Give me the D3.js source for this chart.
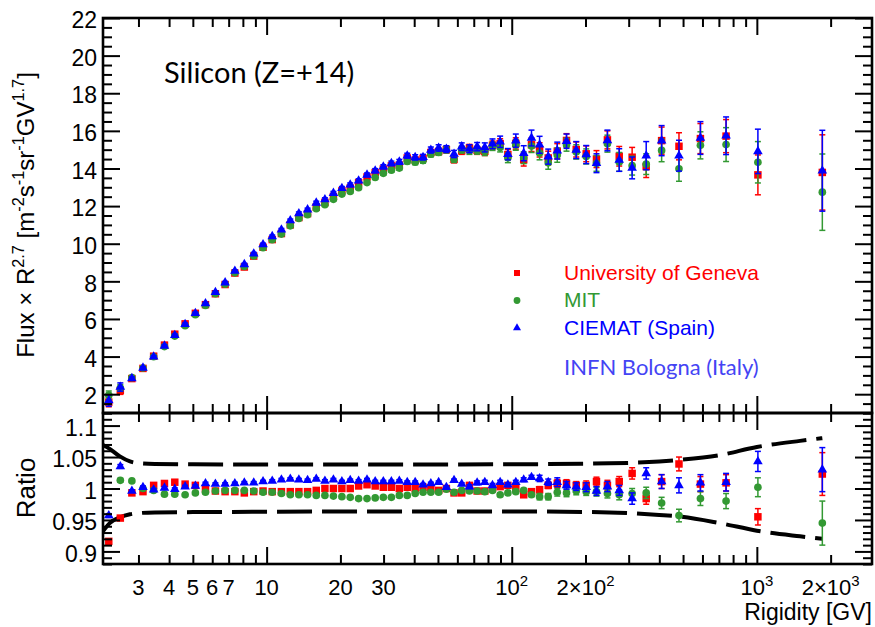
<!DOCTYPE html>
<html>
<head>
<meta charset="utf-8">
<script src="https://cdn.jsdelivr.net/npm/d3@7"></script>
<style>
  html, body { margin: 0; padding: 0; background: #ffffff; }
  svg { display: block; }
  text { font-family: "Liberation Sans", Arial, Helvetica, sans-serif; fill: #000; }
  .calibri { font-family: Lato, "Open Sans", sans-serif; }
</style>
</head>
<body>
<svg id="chart" width="875" height="627"></svg>
<script>
// Rigidity bin centres [GV]
const rigidity = [2.27,2.53,2.82,3.13,3.46,3.83,4.22,4.65,5.12,5.63,
  6.18,6.77,7.42,8.11,8.86,9.67,10.54,11.49,12.49,13.54,
  14.69,15.94,17.29,18.73,20.28,21.93,23.73,25.68,27.73,29.93,
  32.28,34.78,37.47,40.37,43.47,46.77,50.32,54.12,58.16,62.51,
  67.21,72.25,77.65,83.45,89.69,96.44,103.9,111.9,120.4,129.9,
  140.9,153.4,167.3,183.3,201.3,221.7,245.7,274.5,309.9,353.7,
  408.8,481.2,588.6,749,1010,1850];

// Flux x R^2.7 from each analysis group
const fluxGeneva = [1.58,2.19,2.83,3.37,4.02,4.61,5.19,5.74,6.30,6.76,
  7.34,7.83,8.44,8.76,9.34,9.81,10.22,10.54,11.00,11.39,
  11.60,11.95,12.20,12.51,12.81,12.96,13.24,13.55,13.78,13.97,
  14.14,14.18,14.56,14.45,14.54,14.85,14.90,15.00,14.48,14.94,
  15.08,14.96,14.91,15.23,15.32,14.74,15.33,14.46,15.26,14.99,
  14.56,14.92,15.49,15.01,14.78,14.50,15.52,14.65,14.60,14.10,
  15.48,15.18,15.59,15.72,13.66,13.79];
const fluxMIT = [1.95,2.33,2.88,3.39,3.99,4.53,5.09,5.64,6.23,6.72,
  7.34,7.85,8.45,8.79,9.35,9.79,10.21,10.51,10.95,11.34,
  11.54,11.86,12.07,12.36,12.64,12.78,12.98,13.25,13.52,13.74,
  13.91,14.02,14.37,14.33,14.42,14.76,14.85,14.99,14.49,15.00,
  14.94,14.96,14.90,15.18,15.12,14.57,15.25,14.57,15.19,14.82,
  14.30,14.71,15.26,14.88,14.64,14.27,15.32,14.35,14.15,14.23,
  14.96,13.98,15.23,15.27,14.33,12.74];
const fluxCIEMAT = [1.66,2.38,2.84,3.40,3.99,4.57,5.13,5.72,6.30,6.82,
  7.42,7.93,8.55,8.90,9.47,9.96,10.39,10.74,11.23,11.61,
  11.81,12.17,12.35,12.69,12.95,13.13,13.35,13.66,13.88,14.09,
  14.27,14.35,14.68,14.59,14.60,14.98,15.09,15.03,14.77,15.16,
  15.05,15.16,15.12,15.31,15.42,14.76,15.48,14.81,15.62,15.26,
  14.63,14.95,15.45,14.98,14.74,14.28,15.49,14.45,14.03,14.68,
  15.48,14.68,15.62,15.74,14.91,13.88];

// Flux uncertainties (half widths)
const fluxErrGeneva = [0.25,0.20,0.08,0.06,0.06,0.06,0.06,0.06,0.06,0.06,
  0.06,0.06,0.06,0.06,0.06,0.06,0.06,0.07,0.07,0.07,
  0.08,0.08,0.08,0.08,0.08,0.09,0.09,0.09,0.10,0.10,
  0.11,0.12,0.12,0.13,0.14,0.15,0.16,0.17,0.18,0.19,
  0.20,0.21,0.22,0.23,0.26,0.27,0.30,0.33,0.36,0.38,
  0.36,0.40,0.36,0.40,0.42,0.45,0.48,0.52,0.52,0.58,
  0.72,0.72,0.80,0.88,1.06,2.00];
const fluxErrMIT = [0.22,0.18,0.07,0.06,0.06,0.06,0.06,0.06,0.06,0.06,
  0.06,0.06,0.06,0.06,0.06,0.06,0.06,0.07,0.07,0.07,
  0.08,0.08,0.08,0.08,0.08,0.09,0.09,0.09,0.10,0.10,
  0.11,0.11,0.12,0.13,0.14,0.15,0.15,0.16,0.17,0.18,
  0.19,0.20,0.21,0.22,0.24,0.26,0.28,0.31,0.34,0.36,
  0.34,0.38,0.34,0.38,0.40,0.42,0.45,0.50,0.50,0.55,
  0.60,0.66,0.72,0.90,1.10,2.03];
const fluxErrCIEMAT = [0.30,0.22,0.08,0.06,0.06,0.06,0.06,0.06,0.06,0.06,
  0.06,0.06,0.06,0.06,0.07,0.07,0.07,0.07,0.08,0.08,
  0.08,0.09,0.09,0.09,0.09,0.10,0.10,0.10,0.11,0.11,
  0.12,0.13,0.13,0.14,0.15,0.16,0.17,0.18,0.19,0.20,
  0.21,0.22,0.24,0.26,0.30,0.30,0.35,0.40,0.42,0.45,
  0.40,0.45,0.38,0.45,0.48,0.50,0.55,0.60,0.58,0.75,
  0.80,0.82,0.87,1.00,1.18,2.15];

// Ratio of each group to the average of the three
const ratioGeneva = [0.916,0.953,0.993,0.995,1.005,1.008,1.010,1.007,1.005,1.000,
  0.996,0.995,0.995,0.993,0.995,0.996,0.995,0.995,0.995,0.995,
  0.995,0.997,1.000,1.000,1.000,1.000,1.004,1.006,1.004,1.002,
  1.002,1.000,1.002,1.000,1.002,1.000,0.997,1.000,0.993,0.993,
  1.005,0.996,0.996,1.000,1.003,1.005,1.000,0.990,0.995,0.998,
  1.005,1.008,1.008,1.005,1.005,1.011,1.005,1.011,1.024,0.984,
  1.011,1.039,1.007,1.009,0.955,1.023];
const ratioMIT = [1.128,1.013,1.012,1.000,0.997,0.991,0.991,0.990,0.993,0.994,
  0.996,0.997,0.997,0.997,0.996,0.994,0.994,0.992,0.990,0.990,
  0.990,0.989,0.989,0.988,0.987,0.986,0.984,0.984,0.985,0.986,
  0.986,0.989,0.989,0.992,0.994,0.994,0.994,0.999,0.994,0.997,
  0.996,0.996,0.995,0.997,0.990,0.993,0.995,0.997,0.990,0.987,
  0.987,0.994,0.993,0.996,0.995,0.995,0.992,0.990,0.992,0.993,
  0.977,0.957,0.984,0.980,1.002,0.945];
const ratioCIEMAT = [0.957,1.035,0.996,1.002,0.998,1.001,0.999,1.003,1.004,1.008,
  1.007,1.007,1.008,1.009,1.009,1.011,1.012,1.014,1.015,1.014,
  1.013,1.015,1.012,1.014,1.011,1.013,1.012,1.014,1.011,1.011,
  1.011,1.012,1.010,1.010,1.006,1.008,1.010,1.002,1.013,1.007,
  1.003,1.009,1.010,1.005,1.010,1.006,1.010,1.014,1.018,1.016,
  1.010,1.010,1.005,1.003,1.002,0.996,1.003,0.997,0.984,1.024,
  1.011,1.005,1.009,1.010,1.043,1.030];

const ratioErrGeneva = [0.003,0.003,0.002,0.002,0.002,0.002,0.002,0.002,0.002,0.002,
  0.002,0.002,0.002,0.002,0.002,0.002,0.002,0.002,0.002,0.002,
  0.002,0.002,0.002,0.002,0.002,0.002,0.002,0.002,0.002,0.002,
  0.002,0.002,0.002,0.002,0.002,0.002,0.002,0.002,0.002,0.002,
  0.003,0.003,0.003,0.003,0.003,0.003,0.003,0.003,0.003,0.005,
  0.005,0.006,0.006,0.006,0.007,0.007,0.008,0.008,0.009,0.009,
  0.011,0.011,0.012,0.013,0.013,0.034];
const ratioErrMIT = [0.003,0.003,0.002,0.002,0.002,0.002,0.002,0.002,0.002,0.002,
  0.002,0.002,0.002,0.002,0.002,0.002,0.002,0.002,0.002,0.002,
  0.002,0.002,0.002,0.002,0.002,0.002,0.002,0.002,0.002,0.002,
  0.002,0.002,0.002,0.002,0.002,0.002,0.002,0.002,0.002,0.002,
  0.003,0.003,0.003,0.003,0.003,0.003,0.003,0.003,0.003,0.005,
  0.005,0.006,0.006,0.006,0.006,0.007,0.007,0.008,0.008,0.009,
  0.009,0.010,0.011,0.012,0.015,0.035];
const ratioErrCIEMAT = [0.003,0.003,0.002,0.002,0.002,0.002,0.002,0.002,0.002,0.002,
  0.002,0.002,0.002,0.002,0.002,0.002,0.002,0.002,0.002,0.002,
  0.002,0.002,0.002,0.002,0.002,0.002,0.002,0.002,0.002,0.002,
  0.002,0.002,0.002,0.002,0.002,0.002,0.002,0.002,0.002,0.002,
  0.003,0.003,0.003,0.003,0.003,0.003,0.003,0.003,0.003,0.005,
  0.005,0.007,0.006,0.006,0.007,0.007,0.008,0.008,0.009,0.009,
  0.011,0.012,0.013,0.014,0.016,0.035];

// Expected agreement band (dashed curves in the ratio panel)
const bandRigidity = [2.15,2.29,2.52,2.77,3.04,3.5,5,10,30,100,250,400,482,706,1000,1500,1850];
const bandUpper = [1.069,1.063,1.051,1.043,1.040,1.039,1.0385,1.038,1.038,1.0385,1.040,1.043,1.0455,1.053,1.066,1.0757,1.080];
const bandLower = [0.932,0.945,0.954,0.959,0.961,0.962,0.9625,0.963,0.9635,0.9635,0.962,0.958,0.9556,0.945,0.933,0.924,0.920];

// Axis tick labels
const xTickValues = [3,4,5,6,7,10,20,30,100,200,1000,2000];
const xTickLabels = ["3","4","5","6","7","10","20","30","10^{2}","2×10^{2}","10^{3}","2×10^{3}"];
const fluxTickValues = [2,4,6,8,10,12,14,16,18,20,22];
const ratioTickValues = [0.9,0.95,1,1.05,1.1];
const ratioTickLabels = ["0.9","0.95","1","1.05","1.1"];

const groupNames = ["University of Geneva", "MIT", "CIEMAT (Spain)"];
const groupColors = ["#ff0000", "#339933", "#0000ff"];

// ---------------------------------------------------------------
const svg = d3.select("#chart");
const L = 103, R = 872, T = 18, M = 413, B = 564;

const x = d3.scaleLog().domain([2.15, 2950]).range([L, R]);
const yF = d3.scaleLinear().domain([1, 22]).range([M, T]);
const yR = d3.scaleLinear().domain([0.88, 1.12]).range([B, M]);

const defs = svg.append("defs");
defs.append("clipPath").attr("id", "clipTop")
  .append("rect").attr("x", L).attr("y", T).attr("width", R - L).attr("height", M - T);
defs.append("clipPath").attr("id", "clipRatio")
  .append("rect").attr("x", L).attr("y", M).attr("width", R - L).attr("height", B - M);

const series = [
  { color: groupColors[0], symbol: d3.symbolSquare, size: 56, flux: fluxGeneva, fluxErr: fluxErrGeneva, ratio: ratioGeneva, ratioErr: ratioErrGeneva },
  { color: groupColors[1], symbol: d3.symbolCircle, size: 46, flux: fluxMIT, fluxErr: fluxErrMIT, ratio: ratioMIT, ratioErr: ratioErrMIT },
  { color: groupColors[2], symbol: d3.symbolTriangle, size: 40, flux: fluxCIEMAT, fluxErr: fluxErrCIEMAT, ratio: ratioCIEMAT, ratioErr: ratioErrCIEMAT }
];

// rich text with ^{...} superscripts
function addRich(textSel, str, fs) {
  const parts = str.split(/(\^\{[^}]*\})/).filter(s => s.length);
  let raised = false;
  parts.forEach(p => {
    const m = p.match(/^\^\{([^}]*)\}$/);
    if (m) {
      textSel.append("tspan").attr("font-size", fs * 0.68).attr("dy", -fs * 0.42).text(m[1]);
      raised = true;
    } else {
      const t = textSel.append("tspan").attr("font-size", fs).text(p);
      if (raised) { t.attr("dy", fs * 0.42); raised = false; }
    }
  });
}

// one group's points with error bars
function drawPoints(layer, s, values, errors, yScale) {
  const idx = d3.range(rigidity.length);
  const g = layer.append("g");
  const bars = g.append("g").attr("stroke", s.color).attr("stroke-width", 1.5);
  bars.selectAll("line.v").data(idx).join("line").attr("class", "v")
    .attr("x1", i => x(rigidity[i])).attr("x2", i => x(rigidity[i]))
    .attr("y1", i => yScale(values[i] - errors[i])).attr("y2", i => yScale(values[i] + errors[i]));
  bars.selectAll("line.lo").data(idx).join("line").attr("class", "lo")
    .attr("x1", i => x(rigidity[i]) - 3).attr("x2", i => x(rigidity[i]) + 3)
    .attr("y1", i => yScale(values[i] - errors[i])).attr("y2", i => yScale(values[i] - errors[i]));
  bars.selectAll("line.hi").data(idx).join("line").attr("class", "hi")
    .attr("x1", i => x(rigidity[i]) - 3).attr("x2", i => x(rigidity[i]) + 3)
    .attr("y1", i => yScale(values[i] + errors[i])).attr("y2", i => yScale(values[i] + errors[i]));
  const sym = d3.symbol().type(s.symbol).size(s.size);
  g.selectAll("path.mk").data(idx).join("path").attr("class", "mk")
    .attr("d", sym)
    .attr("fill", s.color)
    .attr("transform", i => `translate(${x(rigidity[i])},${yScale(values[i])})`);
}

// ---- top panel: flux ----
const topLayer = svg.append("g").attr("clip-path", "url(#clipTop)");
series.forEach(s => drawPoints(topLayer, s, s.flux, s.fluxErr, yF));

// ---- ratio panel ----
const ratioLayer = svg.append("g").attr("clip-path", "url(#clipRatio)");
const bandLine = (vals) => d3.line()
  .x((d, i) => x(bandRigidity[i]))
  .y((d, i) => yR(vals[i]))
  .curve(d3.curveMonotoneX)(vals);
[bandUpper, bandLower].forEach(v => {
  ratioLayer.append("path")
    .attr("d", bandLine(v))
    .attr("fill", "none")
    .attr("stroke", "#000")
    .attr("stroke-width", 4)
    .attr("stroke-dasharray", "35,10");
});
series.forEach(s => drawPoints(ratioLayer, s, s.ratio, s.ratioErr, yR));

// ---- axes (ticks pointing inward on all four sides) ----
const isDecade = v => Math.abs(Math.log10(v) - Math.round(Math.log10(v))) < 1e-9;
const xAll = x.ticks();
const xMajor = xAll.filter(isDecade);
const xMinor = xAll.filter(v => !isDecade(v));
const majorLen = 17, minorLen = 9;

function xTicksEdge(yPos, inwardDown, values, len) {
  const ax = (inwardDown ? d3.axisTop(x) : d3.axisBottom(x))
    .tickValues(values).tickSizeInner(-len).tickSizeOuter(0).tickFormat("");
  const g = svg.append("g").attr("transform", `translate(0,${yPos})`).call(ax);
  g.select(".domain").remove();
  g.selectAll(".tick line").attr("stroke", "#000").attr("stroke-width", 2);
}
[[T, true], [M, false], [M, true], [B, false]].forEach(([yy, down]) => {
  xTicksEdge(yy, down, xMajor, majorLen);
  xTicksEdge(yy, down, xMinor, minorLen);
});

function yTicks(scale, xPos, leftSide, values, len, labels) {
  const ax = (leftSide ? d3.axisLeft(scale) : d3.axisRight(scale))
    .tickValues(values).tickSizeInner(-len).tickSizeOuter(0).tickPadding(6)
    .tickFormat(labels ? ((d, i) => labels[i]) : "");
  const g = svg.append("g").attr("transform", `translate(${xPos},0)`).call(ax);
  g.select(".domain").remove();
  g.selectAll(".tick line").attr("stroke", "#000").attr("stroke-width", 2);
  g.selectAll(".tick text").attr("font-size", 23).attr("fill", "#000")
    .attr("font-family", '"Liberation Sans", Arial, sans-serif').attr("dy", "0.42em");
}
const fluxMinor = d3.range(1, 22.01, 0.5).filter(v => Math.abs(v / 2 - Math.round(v / 2)) > 1e-6);
const ratioMinor = d3.range(88, 113).map(v => v / 100).filter(v => !ratioTickValues.some(t => Math.abs(t - v) < 1e-6));
yTicks(yF, L, true, fluxTickValues, majorLen, fluxTickValues.map(String));
yTicks(yF, L, true, fluxMinor, minorLen, null);
yTicks(yF, R, false, fluxTickValues, majorLen, null);
yTicks(yF, R, false, fluxMinor, minorLen, null);
yTicks(yR, L, true, ratioTickValues, majorLen, ratioTickLabels);
yTicks(yR, L, true, ratioMinor, minorLen, null);
yTicks(yR, R, false, ratioTickValues, majorLen, null);
yTicks(yR, R, false, ratioMinor, minorLen, null);

// frames
[[T, M], [M, B]].forEach(([y0, y1]) => {
  svg.append("rect").attr("x", L).attr("y", y0).attr("width", R - L).attr("height", y1 - y0)
    .attr("fill", "none").attr("stroke", "#000").attr("stroke-width", 2.6);
});

// x tick labels
xTickValues.forEach((v, i) => {
  const t = svg.append("text").attr("x", x(v)).attr("y", 595)
    .attr("text-anchor", "middle").attr("font-size", 22);
  addRich(t, xTickLabels[i], 22);
});

// axis titles
svg.append("text").attr("x", R).attr("y", 620).attr("text-anchor", "end")
  .attr("font-size", 23).text("Rigidity [GV]");

const yTitle = svg.append("text")
  .attr("transform", "translate(34,215) rotate(-90)")
  .attr("text-anchor", "middle").attr("font-size", 24);
addRich(yTitle, "Flux × R^{2.7} [m^{-2}s^{-1}sr^{-1}GV^{1.7}]", 24);

svg.append("text").attr("transform", "translate(35,488) rotate(-90)")
  .attr("text-anchor", "middle").attr("font-size", 26).text("Ratio");

// panel title
svg.append("text").attr("class", "calibri").attr("x", 164).attr("y", 83)
  .attr("font-size", 29).text("Silicon (Z=+14)");

// legend
const legX = 517, legTextX = 564;
const legRows = [273, 300.5, 328];
const legBase = [279.5, 307, 334.5];
series.forEach((s, i) => {
  svg.append("path")
    .attr("d", d3.symbol().type(s.symbol).size(i === 2 ? 28 : 36)())
    .attr("fill", s.color)
    .attr("transform", `translate(${legX},${legRows[i]})`);
  svg.append("text").attr("x", legTextX).attr("y", legBase[i])
    .attr("font-size", 21).style("fill", s.color).text(groupNames[i]);
});
svg.append("text").attr("class", "calibri").attr("x", legTextX).attr("y", 375)
  .attr("font-size", 22).style("fill", "#4444f4").text("INFN Bologna (Italy)");
</script>
</body>
</html>
